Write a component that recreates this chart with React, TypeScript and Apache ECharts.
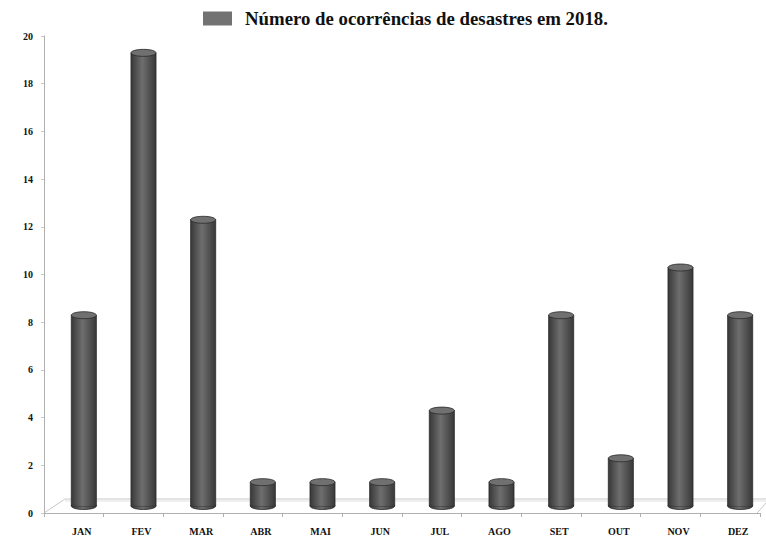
import React, { useEffect, useRef } from "react";
import * as echarts from "echarts";

const categories = ["JAN", "FEV", "MAR", "ABR", "MAI", "JUN", "JUL", "AGO", "SET", "OUT", "NOV", "DEZ"];
const values = [8, 19, 12, 1, 1, 1, 4, 1, 8, 2, 10, 8];
const seriesName = "Número de ocorrências de desastres em 2018.";
const yTicks = { min: 0, max: 20, interval: 2 };

const FONT = "'Liberation Serif', 'Times New Roman', serif";

export default function App() {
  const ref = useRef<HTMLDivElement>(null);
  useEffect(() => {
    if (!ref.current) return;
    const chart = echarts.init(ref.current, null, { renderer: "svg" });
    const dx = 10;
    const dy = -7;
    const bodyGrad = new echarts.graphic.LinearGradient(0, 0, 1, 0, [
      { offset: 0, color: "#383838" },
      { offset: 0.45, color: "#6e6e6e" },
      { offset: 1, color: "#383838" },
    ]);
    chart.setOption({
      animation: false,
      backgroundColor: "#ffffff",
      legend: {
        left: 198,
        top: 4,
        icon: "rect",
        itemWidth: 29,
        itemHeight: 14,
        itemGap: 10,
        textStyle: {
          fontFamily: FONT,
          fontWeight: "bold",
          fontSize: 18.8,
          color: "#111",
          padding: [0, 0, 0, 8],
        },
        data: [{ name: seriesName, itemStyle: { color: "#727272" } }],
      },
      grid: { left: 44, right: 6, top: 36, bottom: 26, containLabel: false },
      xAxis: {
        type: "category",
        data: categories,
        axisLine: { lineStyle: { color: "#b0b0b0" } },
        axisTick: { show: true, length: 4, lineStyle: { color: "#b0b0b0" } },
        axisLabel: {
          fontFamily: FONT,
          fontWeight: "bold",
          fontSize: 10,
          color: "#111",
          margin: 13,
          padding: [0, 0, 0, 16],
        },
      },
      yAxis: {
        type: "value",
        min: yTicks.min,
        max: yTicks.max,
        interval: yTicks.interval,
        splitLine: { show: false },
        axisLine: { show: true, lineStyle: { color: "#b0b0b0" } },
        axisTick: { show: true, length: 3, lineStyle: { color: "#c8c8c8" } },
        axisLabel: { fontFamily: FONT, fontWeight: "bold", fontSize: 10, color: "#111", margin: 11 },
      },
      graphic: [
        {
          type: "polyline",
          silent: true,
          z: 0,
          shape: { points: [[44, 513], [65, 499], [766, 499]] },
          style: { stroke: "#c8c8c8", lineWidth: 1, fill: "none" },
        },
        {
          type: "line",
          silent: true,
          z: 0,
          shape: { x1: 65, y1: 501, x2: 766, y2: 501 },
          style: { stroke: "#e0e0e0", lineWidth: 1 },
        },
        {
          type: "line",
          silent: true,
          z: 0,
          shape: { x1: 757, y1: 513, x2: 766, y2: 503 },
          style: { stroke: "#c8c8c8", lineWidth: 1 },
        },
      ],
      series: [
        {
          name: seriesName,
          type: "custom",
          itemStyle: { color: "#727272" },
          data: values.map((v, i) => [i, v]),
          encode: { x: 0, y: 1 },
          renderItem: (params: any, api: any) => {
            const i = api.value(0);
            const v = api.value(1);
            const top = api.coord([i, v]);
            const base = api.coord([i, 0]);
            const w = api.size([1, 0])[0] * 0.42;
            const cx = top[0] + dx;
            const yTop = top[1] + dy;
            const yBot = base[1] + dy;
            const ry = 3.5;
            return {
              type: "group",
              children: [
                {
                  type: "ellipse",
                  shape: { cx, cy: yBot, rx: w / 2, ry },
                  style: { fill: bodyGrad, stroke: "#2a2a2a", lineWidth: 0.8 },
                },
                {
                  type: "rect",
                  shape: { x: cx - w / 2, y: yTop, width: w, height: yBot - yTop },
                  style: { fill: bodyGrad, stroke: "#2a2a2a", lineWidth: 0.8 },
                },
                {
                  type: "rect",
                  shape: { x: cx - w / 2 + 0.5, y: yBot - 2, width: w - 1, height: 2 },
                  style: { fill: bodyGrad },
                },
                {
                  type: "ellipse",
                  shape: { cx, cy: yTop, rx: w / 2, ry },
                  style: { fill: "#707070", stroke: "#2a2a2a", lineWidth: 0.8 },
                },
              ],
            };
          },
        },
      ],
    });
    return () => chart.dispose();
  }, []);
  return <div ref={ref} style={{ width: 766, height: 539, position: "absolute", left: 0, top: 0 }} />;
}
